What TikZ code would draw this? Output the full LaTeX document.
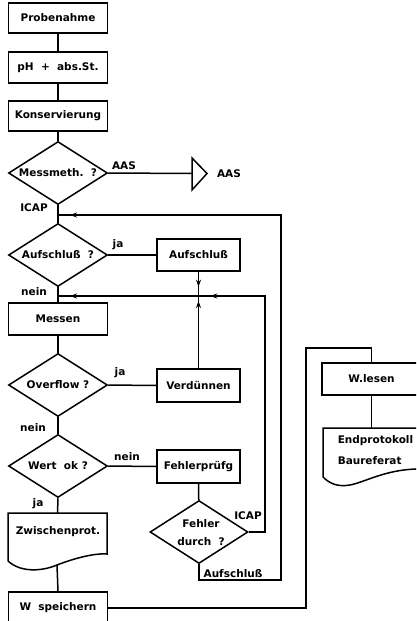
\documentclass[tikz,border=0pt]{standalone}
\usepackage{fontspec}
\setmainfont{DejaVu Sans}
\usetikzlibrary{shapes.geometric,arrows.meta,decorations.markings,calc}
\begin{document}
\begin{tikzpicture}[x=1pt,y=-1pt, line width=1.5pt,
  font=\bfseries\fontsize{10.5}{12}\selectfont,
  box/.style={draw, rectangle, minimum width=99pt, inner sep=0pt},
  smallbox/.style={draw, rectangle, minimum width=83pt, minimum height=33pt, inner sep=0pt},
  dec/.style={draw, diamond, aspect=1.57, minimum width=99pt, minimum height=63pt, inner sep=0pt},
  lbl/.style={inner sep=0pt},
  tipmark/.style={postaction=decorate, decoration={markings,
      mark=at position #1 with {\arrow{Stealth[length=7pt,width=5pt]}}}},
  twomarks/.style 2 args={postaction=decorate, decoration={markings,
      mark=at position #1 with {\arrow{Stealth[length=7pt,width=5pt]}},
      mark=at position #2 with {\arrow{Stealth[length=7pt,width=5pt]}}}}
]
\useasboundingbox (0,0) rectangle (416,621);
\clip (0,0) rectangle (416,621);

% main column
\node[box, minimum height=30pt] (prob) at (58,18) {Probenahme};
\node[box, minimum height=31pt] (ph) at (58,67.5) {pH\ \ +\ \ abs.St.};
\node[box, minimum height=30pt] (kons) at (58,116) {Konservierung};
\node[dec] (mm) at (58,173) {Messmeth.\ \ ?};
\coordinate (j1) at (58,215);
\node[dec] (auf) at (58,255) {Aufschluß\ \ ?};
\node[smallbox, minimum height=32pt] (aufb) at (198.5,255) {Aufschluß};
\coordinate (j2) at (58,296);
\coordinate (jv) at (198.5,296);
\node[box, minimum height=32pt] (mes) at (58,319) {Messen};
\node[dec] (ov) at (58,385) {Overflow ?};
\node[smallbox] (verd) at (198.5,385.5) {Verdünnen};
\node[dec] (wo) at (58,466) {Wert\ \ ok ?};
\node[smallbox] (fp) at (198.5,466.5) {Fehlerprüfg};
\node[dec, minimum width=98pt] (fd) at (199,532) {};
\node[lbl, align=center] (fdt) at (201,533) {Fehler\\[6pt]durch\ \ ?};

% Zwischenprot document
\coordinate (zwt) at (57.5,513);
\coordinate (zwb) at (57,565);
\draw (8,561) -- (8,513) -- (107,513) -- (107,554)
  .. controls (95,553) and (75,558) .. (zwb)
  .. controls (40,572) and (20,572) .. (8,561);
\node[lbl] (zw) at (58,532) {Zwischenprot.};

\node[box, minimum height=32pt] (ws) at (58,608) {W\ \ speichern};

% AAS connector
\coordinate (tri) at (192,173.5);
\draw (192,158) -- (207,173.5) -- (192,190) -- cycle;
\node[lbl] (aas2) at (229,174) {AAS};

% right part
\coordinate (c1) at (306,608);
\coordinate (c2) at (306,348);
\coordinate (c3) at (371.5,348);
\node[box, minimum height=32pt] (wl) at (371.5,379) {W.lesen};
\coordinate (ept) at (371.5,428);
\draw (323,477) -- (323,428) -- (422,428) -- (422,468) -- (416,469)
  .. controls (385,470) and (365,482) .. (350,485)
  .. controls (338,487) and (330,484) .. (323,477);
\node[lbl, anchor=west] (ep1) at (337,441) {Endprotokoll};
\node[lbl, anchor=west] (ep2) at (337,461) {Baureferat};

% loop corners
\coordinate (r1) at (265,296);
\coordinate (r2) at (281,580);

% connectors
\draw (prob) -- (ph);
\draw (ph) -- (kons);
\draw (kons) -- (mm);
\draw (mm.south) -- (j1) -- (auf.north);
\draw (mm.east) -- (tri);
\draw (auf.east) -- (aufb.west);
\draw (auf.south) -- (j2) -- (mes.north);
\draw (mes) -- (ov);
\draw (ov.east) -- (verd.west);
\draw (ov.south) -- (wo.north);
\draw (wo.east) -- (fp.west);
\draw (fp) -- (fd);
\draw (wo.south) -- (zwt);
\draw (zwb) -- (ws.north);
\draw (ws.east) -- (c1) -- (c2) -- (c3) -- (wl.north);
\draw (wl) -- (ept);
\draw[tipmark=0.62] (aufb.south) -- (jv);
\draw[tipmark=-5pt] (verd.north) -- (jv);
\draw[twomarks={307pt}{-12pt}] (fd.east) -| (r1) -- (j2);
\draw[tipmark=-12pt] (fd.south) |- (r2) |- (j1);

% labels
\node[lbl] (l1) at (124,166) {AAS};
\node[lbl] (l2) at (34,208) {ICAP};
\node[lbl] (l3) at (118,245) {ja};
\node[lbl] (l4) at (34,292) {nein};
\node[lbl] (l5) at (120,373) {ja};
\node[lbl] (l6) at (33,428) {nein};
\node[lbl] (l7) at (127,457) {nein};
\node[lbl] (l8) at (38,504) {ja};
\node[lbl] (l9) at (248,516) {ICAP};
\node[lbl] (l10) at (233,574) {Aufschluß};
\end{tikzpicture}
\end{document}
